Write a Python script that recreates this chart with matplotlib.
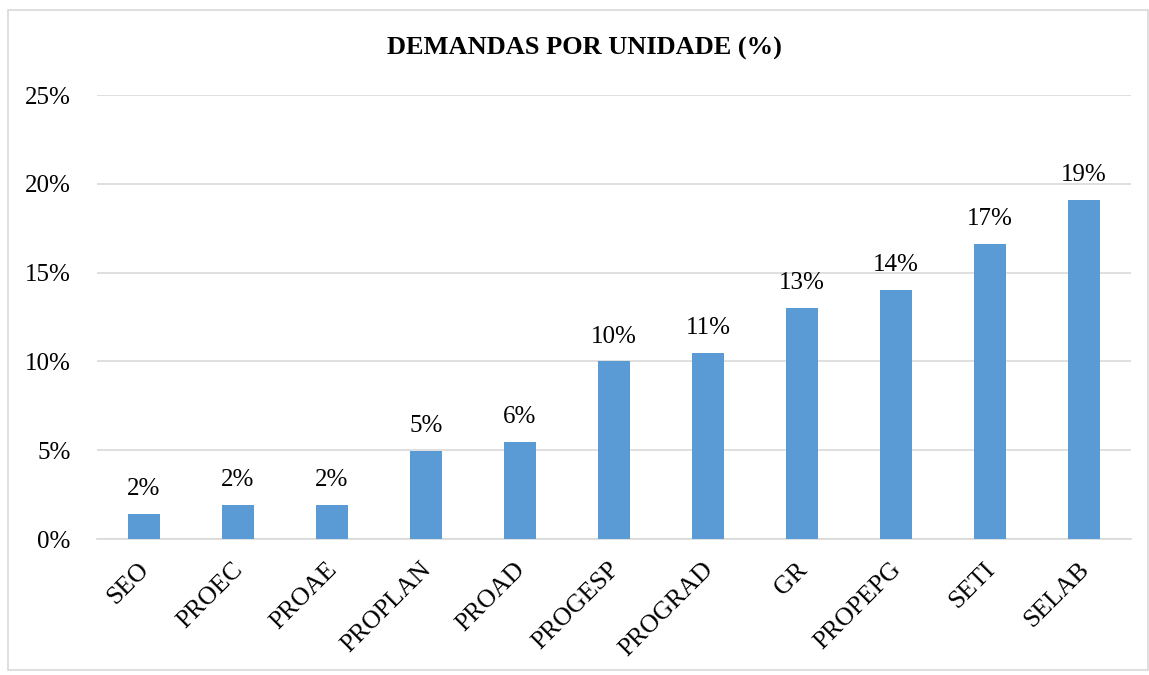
import matplotlib
matplotlib.use("Agg")
import matplotlib.pyplot as plt
from matplotlib.patches import Rectangle
from matplotlib.ticker import FuncFormatter
from matplotlib.transforms import ScaledTranslation

categories = ["SEO", "PROEC", "PROAE", "PROPLAN", "PROAD", "PROGESP",
              "PROGRAD", "GR", "PROPEPG", "SETI", "SELAB"]
values = [1.4, 1.9, 1.9, 4.95, 5.45, 10.0, 10.5, 13.0, 14.0, 16.6, 19.1]
value_labels = ["2%", "2%", "2%", "5%", "6%", "10%", "11%", "13%", "14%", "17%", "19%"]
yticks = [0, 5, 10, 15, 20, 25]
title = "DEMANDAS POR UNIDADE (%)"

plt.rcParams['font.family'] = ['Liberation Serif', 'DejaVu Serif']

fig = plt.figure(figsize=(11.49, 6.75), dpi=100)
fig.patches.append(Rectangle((8/1149, 1-670/675), (1148-8)/1149, (670-10)/675,
                             transform=fig.transFigure, fill=False,
                             edgecolor='#D9D9D9', linewidth=1.2))
ax = fig.add_axes([97/1149, 1-539/675, (1131-97)/1149, (539-95)/675])

x = list(range(len(categories)))
bars = ax.bar(x, values, width=0.35, color='#5B9BD5', zorder=3)
for xi, v, lab in zip(x, values, value_labels):
    ax.annotate(lab, (xi, v), xytext=(0, 10), textcoords='offset points',
                ha='center', va='bottom', fontsize=18, color='#000000')

ax.set_xlim(-0.5, len(categories) - 0.5)
ax.set_ylim(0, 25)
ax.set_yticks(yticks)
ax.yaxis.set_major_formatter(FuncFormatter(lambda v, p: f"{v:.0f}%"))
ax.grid(axis='y', color='#D9D9D9', linewidth=1.2, zorder=0)
for s in ['top', 'right', 'left']:
    ax.spines[s].set_visible(False)
ax.spines['bottom'].set_color('#D9D9D9')
ax.spines['bottom'].set_linewidth(1.2)
ax.tick_params(axis='both', length=0, colors='#000000')
ax.tick_params(axis='y', pad=19, labelsize=18)
ax.set_xticks(x)
ax.set_xticklabels(categories, rotation=45, ha='right', va='top', rotation_mode='anchor',
                   fontsize=18.5)
ax.tick_params(axis='x', pad=14)
shift = ScaledTranslation(-6/100, 0, fig.dpi_scale_trans)
for lbl in ax.get_xticklabels():
    lbl.set_transform(lbl.get_transform() + shift)

fig.text(584/1149, 1-48/675, title, ha='center', va='center',
         fontsize=19, fontweight='bold')

fig.savefig("out.png", dpi=100)
